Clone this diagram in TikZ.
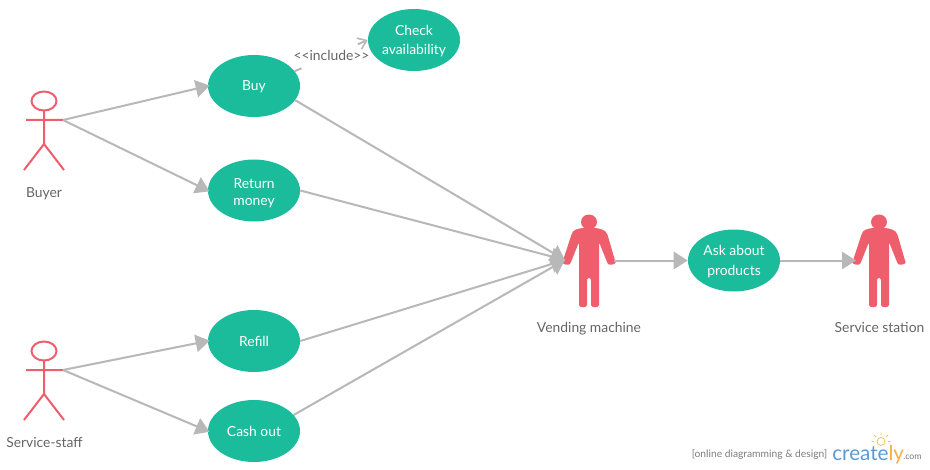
\documentclass[tikz,border=0pt]{standalone}
\usepackage{fontspec}
\setmainfont{Lato}
\usetikzlibrary{arrows.meta,shapes.geometric}
\definecolor{teal}{HTML}{1ABC9C}
\definecolor{actorred}{HTML}{EE5E6C}
\definecolor{linegray}{HTML}{B8B8B8}
\definecolor{textgray}{HTML}{666666}
\definecolor{logoblue}{HTML}{5B9BD5}
\definecolor{logoorange}{HTML}{F5B041}
\newcommand{\oneline}[1]{\raisebox{-3.75pt}[0pt][0pt]{#1}}
\newcommand{\twolines}[2]{\raisebox{-10.9pt}[0pt][0pt]{\shortstack{#1\\[3.8pt]#2}}}
\tikzset{
  usecase/.style={ellipse,fill=teal,draw=none,minimum width=69pt,minimum height=46.5pt,inner sep=0pt,text=white,align=center,font=\fontsize{10.4}{13.5}\selectfont},
  caption/.style={text=textgray,inner sep=0pt,font=\fontsize{10.4}{13.5}\selectfont},
  assoc/.style={draw=linegray,line width=1.5pt,-{Triangle[length=10.5pt,width=13pt,fill=linegray]}},
  incl/.style={draw=linegray,line width=1.5pt,dash pattern=on 5.5pt off 3pt},
  stick/.pic={
    \draw[actorred,line width=1.5pt] (0,-19) ellipse (12.5 and 9.5);
    \draw[actorred,line width=1.5pt] (0,-9.5) -- (0,24) (-18,0) -- (19,0) (-20,50) -- (0,24) -- (20,50);
  },
  solidperson/.pic={
    \fill[actorred] (0,-39) ellipse (8 and 7.5);
    \fill[actorred,rounded corners=1.5pt]
      (-7,-33) .. controls (-12,-32) and (-15,-31) .. (-17,-28)
      -- (-26,-0.5) .. controls (-27,3) and (-20,5) .. (-18,1)
      -- (-10,-19) -- (-10,42)
      .. controls (-10,47) and (-2,47) .. (-2,42)
      -- (-2,17) -- (2,17) -- (2,42)
      .. controls (2,47) and (10,47) .. (10,42)
      -- (10,-19) -- (18,1)
      .. controls (20,5) and (27,3) .. (26,-0.5)
      -- (18,-28) .. controls (15,-31) and (12,-32) .. (7,-33) -- cycle;
  }
}
\begin{document}
\begin{tikzpicture}[x=0.75pt,y=-0.75pt]
\useasboundingbox (0,0) rectangle (930,470);
\fill[white] (0,0) rectangle (930,470);

% use cases
\node[usecase] (buy) at (254,86) {\oneline{Buy}};
\node[usecase] (ret) at (254,190.5) {\twolines{Return}{money}};
\node[usecase] (refill) at (254,341) {\oneline{Refill}};
\node[usecase] (cash) at (254,431) {\oneline{Cash out}};
\node[usecase] (check) at (414,40) {\twolines{Check}{availability}};
\node[usecase] (ask) at (734,260.5) {\twolines{Ask about}{products}};

% actors
\pic at (44,120) {stick};
\pic at (44,370) {stick};
\pic at (589,261) {solidperson};
\pic at (879,261) {solidperson};
\coordinate (buyer) at (63,120);
\coordinate (staff) at (63,370);
\coordinate (vmin) at (565,260);
\coordinate (vmout) at (614,260.5);
\coordinate (station) at (856,260.5);

% captions
\node[caption] (buyerlabel) at (44,193.5) {Buyer};
\node[caption] (stafflabel) at (44.5,442.5) {Service-staff};
\node[caption] (vmlabel) at (589,328.5) {Vending machine};
\node[caption] (stationlabel) at (879.5,327.5) {Service station};

% associations
\draw[assoc,shorten >=-1.5pt] (buyer) -- (buy.west);
\draw[assoc,shorten >=-1.5pt] (buyer) -- (ret.west);
\draw[assoc,shorten >=-1.5pt] (staff) -- (refill.west);
\draw[assoc,shorten >=-1.5pt] (staff) -- (cash.west);
\draw[assoc] (buy.-19) -- (vmin);
\draw[assoc] (ret.east) -- (vmin);
\draw[assoc] (refill.east) -- (vmin);
\draw[assoc] (cash.22) -- (vmin);
\draw[assoc] (vmout) -- (ask.west);
\draw[assoc] (ask.east) -- (station);

% include
\node[caption,minimum width=56pt,minimum height=16.5pt] (include) at (331.5,55.5) {<{}<include>{}>};
\draw[incl] (buy.20) -- (include);
\draw[incl,-{Straight Barb[length=6pt,width=9pt,line width=1.2pt]}] (include) -- (check.west);

% watermark
\node[text=textgray!85,inner sep=0pt,font=\fontsize{7.7}{9}\selectfont] (tag) at (759.5,454.5) {[online diagramming \& design]};
\node[text=logoblue,inner sep=0pt,anchor=base west,font=\fontsize{15.5}{18}\selectfont] (logo) at (832,460.5)
  {create\textcolor{logoorange}{ly}};
\node[text=textgray!85,inner sep=0pt,anchor=base west,font=\fontsize{6.6}{8}\selectfont] (com) at (903,459) {.com};
\draw[logoorange!80,line width=0.6pt] (881,441.5) circle (4);
\draw[logoorange!80,line width=0.6pt] (881,432.5) -- (881,435) (874,435) -- (876,437) (888,435) -- (886,437) (871.5,441.5) -- (874,441.5) (890.5,441.5) -- (888,441.5);
\end{tikzpicture}
\end{document}
